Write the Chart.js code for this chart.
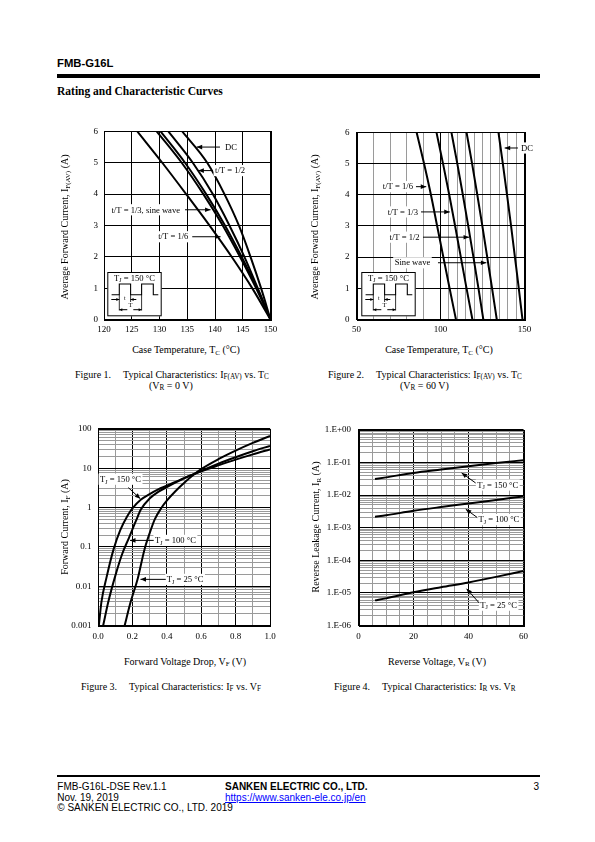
<!DOCTYPE html>
<html><head><meta charset="utf-8">
<script src="https://cdn.jsdelivr.net/npm/chart.js@4.4.0/dist/chart.umd.min.js"></script>
<style>
body{margin:0;width:595px;height:842px;position:relative;background:#fff;font-family:"Liberation Serif","Times New Roman",Times,serif;color:#000;overflow:hidden}
.abs{position:absolute;white-space:nowrap}
canvas{position:absolute}
.sans{font-family:"Liberation Sans",Arial,Helvetica,sans-serif}
.s{font-size:70%;position:relative;top:.25em}
.ax{font-size:10px;line-height:1;transform:translate(-50%,-50%)}
.ay{font-size:10px;line-height:1;transform:translate(-50%,-50%) rotate(-90deg)}
.cap{font-size:10px;line-height:11px}
.cap .s{top:.1em;font-size:72%}
</style></head>
<body>
<div class="abs sans" style="left:57px;top:58px;font-size:11.3px;line-height:1;font-weight:bold">FMB-G16L</div>
<div class="abs" style="left:57px;top:74px;width:483px;height:4px;background:#000"></div>
<div class="abs" style="left:57px;top:85.5px;font-size:11.5px;line-height:1;font-weight:bold">Rating and Characteristic Curves</div>

<canvas id="c1" width="236" height="220" style="left:54px;top:120px"></canvas>
<canvas id="c2" width="240" height="220" style="left:306px;top:120px"></canvas>
<canvas id="c3" width="240" height="228" style="left:48px;top:417px"></canvas>
<canvas id="c4" width="245" height="228" style="left:300px;top:417px"></canvas>

<div class="abs ax" style="left:186px;top:350px">Case Temperature, T<span class="s">C</span> (°C)</div>
<div class="abs ay" style="left:65px;top:227px">Average Forward Current, I<span class="s">F(AV)</span> (A)</div>
<div class="abs ax" style="left:439px;top:350px">Case Temperature, T<span class="s">C</span> (°C)</div>
<div class="abs ay" style="left:315px;top:227px">Average Forward Current, I<span class="s">F(AV)</span> (A)</div>
<div class="abs ax" style="left:185px;top:661.5px">Forward Voltage Drop, V<span class="s">F</span> (V)</div>
<div class="abs ay" style="left:65px;top:527px">Forward Current, I<span class="s">F</span> (A)</div>
<div class="abs ax" style="left:437px;top:661.5px">Reverse Voltage, V<span class="s">R</span> (V)</div>
<div class="abs ay" style="left:316px;top:527px">Reverse Leakage Current, I<span class="s">R</span> (A)</div>

<div class="abs cap" style="left:75px;top:369px">Figure 1.<span style="margin-left:12px">Typical Characteristics: I<span class="s">F(AV)</span> vs. T<span class="s">C</span></span></div>
<div class="abs cap" style="left:149px;top:380px">(V<span class="s">R</span> = 0 V)</div>
<div class="abs cap" style="left:328px;top:369px">Figure 2.<span style="margin-left:12px">Typical Characteristics: I<span class="s">F(AV)</span> vs. T<span class="s">C</span></span></div>
<div class="abs cap" style="left:400px;top:380px">(V<span class="s">R</span> = 60 V)</div>
<div class="abs cap" style="left:81px;top:681px">Figure 3.<span style="margin-left:12px">Typical Characteristics: I<span class="s">F</span> vs. V<span class="s">F</span></span></div>
<div class="abs cap" style="left:334px;top:681px">Figure 4.<span style="margin-left:12px">Typical Characteristics: I<span class="s">R</span> vs. V<span class="s">R</span></span></div>

<div class="abs" style="left:57px;top:775px;width:483px;height:1.5px;background:#000"></div>
<div class="abs sans" style="left:57.3px;top:782.3px;font-size:10px;line-height:10.5px">FMB-G16L-DSE Rev.1.1<br>Nov. 19, 2019<br>© SANKEN ELECTRIC CO., LTD. 2019</div>
<div class="abs sans" style="left:225px;top:782.3px;font-size:10px;line-height:10.5px"><b>SANKEN ELECTRIC CO., LTD.</b><br><span style="color:#00f;text-decoration:underline">https://www.sanken-ele.co.jp/en</span></div>
<div class="abs sans" style="right:56px;top:782.3px;font-size:10px;line-height:10.5px">3</div>

<script>
// ---------- Figure 1 data (IF(AV) vs Tc, VR = 0 V) ----------
const fig1Current = [6, 5, 4, 3, 2, 1, 0];
const fig1TcDC    = [134.1, 138.6, 141.7, 144.3, 146.4, 148.3, 150];
const fig1TcHalf  = [131.6, 136.0, 139.6, 142.6, 145.3, 147.7, 150];
const fig1TcSine  = [130.2, 134.6, 138.4, 141.8, 144.8, 147.6, 150];
const fig1TcThird = [129.5, 134.0, 137.9, 141.4, 144.5, 147.4, 150];
const fig1TcSixth = [126.0, 130.5, 134.8, 139.0, 143.0, 146.7, 150];
const fig1XTicks = [120, 125, 130, 135, 140, 145, 150];
const fig1YTicks = [0, 1, 2, 3, 4, 5, 6];

// ---------- Figure 2 data (IF(AV) vs Tc, VR = 60 V) ----------
const fig2Current = [6, 5, 4, 3, 2, 1, 0];
const fig2TcSixth = [85.8, 90.2, 94.3, 98.0, 101.7, 105.4, 109.2];
const fig2TcThird = [97.6, 101.5, 105.2, 108.7, 112.1, 115.5, 119.0];
const fig2TcHalf  = [106.5, 110.0, 113.3, 116.5, 119.6, 122.6, 125.5];
const fig2TcSine  = [115.5, 118.8, 121.9, 124.9, 127.8, 130.7, 133.5];
const fig2TcDC    = [134.5, 137.1, 139.6, 142.0, 144.3, 146.6, 148.8];
const fig2XTicks = [50, 60, 70, 80, 90, 100, 105, 110, 115, 120, 125, 130, 135, 140, 145, 150];
const fig2XLabels = [50, 100, 150];
const fig2YTicks = [0, 1, 2, 3, 4, 5, 6];

// ---------- Figure 3 data (IF vs VF) ----------
const fig3V25  = [0.155, 0.19, 0.23, 0.27, 0.30, 0.33, 0.37, 0.40, 0.45, 0.50, 0.55, 0.60, 0.70, 0.80, 0.90, 1.00];
const fig3I25  = [0.001, 0.004, 0.015, 0.085, 0.22, 0.5, 1.0, 1.5, 2.6, 4.2, 6.5, 9.5, 17, 28, 44, 66];
const fig3V100 = [0.03, 0.06, 0.10, 0.14, 0.18, 0.22, 0.25, 0.30, 0.35, 0.40, 0.50, 0.60, 0.70, 0.80, 0.90, 1.00];
const fig3I100 = [0.001, 0.004, 0.018, 0.065, 0.17, 0.45, 0.9, 1.7, 2.5, 3.3, 5.5, 8.5, 13, 19, 27, 37];
const fig3V150 = [0.005, 0.02, 0.05, 0.09, 0.13, 0.17, 0.20, 0.25, 0.30, 0.35, 0.40, 0.50, 0.60, 0.70, 0.80, 0.90, 1.00];
const fig3I150 = [0.001, 0.004, 0.017, 0.085, 0.27, 0.6, 0.95, 1.6, 2.2, 2.9, 3.6, 5.6, 8.3, 11.8, 16.5, 22.5, 30];
const fig3XTicks = [0, 0.1, 0.2, 0.3, 0.4, 0.5, 0.6, 0.7, 0.8, 0.9, 1.0];
const fig3XLabels = [0, 0.2, 0.4, 0.6, 0.8, 1.0];
const fig3YDecades = [0.001, 0.01, 0.1, 1, 10, 100];

// ---------- Figure 4 data (IR vs VR) ----------
const fig4V = [6, 10, 20, 30, 40, 50, 60];
const fig4I150 = [0.031, 0.035, 0.048, 0.061, 0.077, 0.096, 0.118];
const fig4I100 = [0.00215, 0.0024, 0.0033, 0.0043, 0.0055, 0.0071, 0.0091];
const fig4I25  = [5.9e-6, 6.8e-6, 1.05e-5, 1.5e-5, 2.1e-5, 3.1e-5, 4.7e-5];
const fig4XTicks = [0, 5, 10, 15, 20, 25, 30, 35, 40, 45, 50, 55, 60];
const fig4XLabels = [0, 20, 40, 60];
const fig4YDecades = [1e-6, 1e-5, 1e-4, 1e-3, 1e-2, 1e-1, 1];
const fig4YLabels = ["1.E-06", "1.E-05", "1.E-04", "1.E-03", "1.E-02", "1.E-01", "1.E+00"];

// ---------- helpers ----------
const SERIF = '"Liberation Serif","Times New Roman",Times,serif';
const GRAY = '#9a9a9a';
const has = (arr, v) => arr.some(a => Math.abs(a - v) < 1e-9);
const isDecade = v => Math.abs(Math.log10(v) - Math.round(Math.log10(v))) < 1e-9;
function logGrid(decades) {
  const out = [];
  for (let i = 0; i < decades.length - 1; i++)
    for (let k = 1; k <= 9; k++) out.push(Number((decades[i] * k).toPrecision(6)));
  out.push(decades[decades.length - 1]);
  return out;
}
const TJ = t => [{t: 'T'}, {t: 'J', sub: true}, {t: ' = ' + t + ' °C'}];

function drawRich(ctx, parts, x, y, size, align, bg) {
  let w = 0;
  const ws = parts.map(p => { ctx.font = (p.sub ? size * 0.7 : size) + 'px ' + SERIF; const m = ctx.measureText(p.t).width; w += m; return m; });
  const sx = align === 'right' ? x - w : align === 'center' ? x - w / 2 : x;
  if (bg) { ctx.fillStyle = '#fff'; ctx.fillRect(sx - 1.5, y - size * 0.65, w + 3, size * 1.3); }
  return () => {
    ctx.fillStyle = '#000'; ctx.textBaseline = 'alphabetic'; ctx.textAlign = 'left';
    let cx = sx;
    parts.forEach((p, i) => { ctx.font = (p.sub ? size * 0.7 : size) + 'px ' + SERIF; ctx.fillText(p.t, cx, y + size * 0.32 + (p.sub ? size * 0.18 : 0)); cx += ws[i]; });
  };
}
function arrow(ctx, x1, y1, x2, y2, head, hw) {
  head = head || 5.5; hw = hw || 2.3;
  ctx.strokeStyle = '#000'; ctx.fillStyle = '#000'; ctx.lineWidth = 1;
  ctx.beginPath(); ctx.moveTo(x1, y1); ctx.lineTo(x2, y2); ctx.stroke();
  const a = Math.atan2(y2 - y1, x2 - x1), c = Math.cos(a), s = Math.sin(a);
  ctx.beginPath(); ctx.moveTo(x2, y2);
  ctx.lineTo(x2 - head * c + hw * s, y2 - head * s - hw * c);
  ctx.lineTo(x2 - head * c - hw * s, y2 - head * s + hw * c);
  ctx.closePath(); ctx.fill();
}
function drawInset(ctx, area, dx) {
  const x0 = area.left + dx, y0 = area.bottom - 47.5, W = 54.4, H = 44.3;
  ctx.fillStyle = '#fff'; ctx.fillRect(x0, y0, W, H);
  ctx.strokeStyle = '#000'; ctx.lineWidth = 1; ctx.strokeRect(x0 + 0.5, y0 + 0.5, W - 1, H - 1);
  drawRich(ctx, TJ(150), x0 + W / 2, y0 + 6, 8.6, 'center', false)();
  const lo = y0 + 22.7, hi = y0 + 12;
  ctx.lineWidth = 1.1;
  ctx.beginPath();
  ctx.moveTo(x0 + 4.3, lo); ctx.lineTo(x0 + 12, lo); ctx.lineTo(x0 + 12, hi); ctx.lineTo(x0 + 23.3, hi);
  ctx.lineTo(x0 + 23.3, lo); ctx.lineTo(x0 + 34.3, lo); ctx.lineTo(x0 + 34.3, hi); ctx.lineTo(x0 + 46, hi);
  ctx.lineTo(x0 + 46, lo); ctx.lineTo(x0 + 51, lo);
  ctx.stroke();
  ctx.lineWidth = 0.8;
  ctx.beginPath();
  ctx.moveTo(x0 + 12, lo); ctx.lineTo(x0 + 12, y0 + 38.5);
  ctx.moveTo(x0 + 34.3, lo); ctx.lineTo(x0 + 34.3, y0 + 38.5);
  ctx.moveTo(x0 + 23.3, lo); ctx.lineTo(x0 + 23.3, y0 + 30);
  ctx.stroke();
  arrow(ctx, x0 + 4, y0 + 27.5, x0 + 12, y0 + 27.5, 3, 1.5);
  arrow(ctx, x0 + 29, y0 + 27.5, x0 + 23.3, y0 + 27.5, 3, 1.5);
  arrow(ctx, x0 + 20, y0 + 37.7, x0 + 12, y0 + 37.7, 3, 1.5);
  arrow(ctx, x0 + 26, y0 + 37.7, x0 + 34.3, y0 + 37.7, 3, 1.5);
  drawRich(ctx, [{t: 't'}], x0 + 17.6, y0 + 26.5, 6, 'center', false)();
  drawRich(ctx, [{t: 'T'}], x0 + 23.2, y0 + 33, 6.5, 'center', false)();
}

const framePlugin = {
  id: 'frame',
  beforeDatasetsDraw(chart) {
    const a = chart.chartArea, ctx = chart.ctx;
    ctx.save(); ctx.strokeStyle = '#000'; ctx.lineWidth = 1;
    ctx.strokeRect(Math.round(a.left) + 0.5, Math.round(a.top) + 0.5, Math.round(a.right) - Math.round(a.left), Math.round(a.bottom) - Math.round(a.top));
    ctx.restore();
  }
};
function annPlugin(anns, insetDx) {
  return {
    id: 'ann',
    afterDatasetsDraw(chart) {
      const ctx = chart.ctx, xs = chart.scales.x, ys = chart.scales.y;
      ctx.save();
      if (insetDx !== undefined) drawInset(ctx, chart.chartArea, insetDx);
      anns.forEach(a => {
        const txt = drawRich(ctx, a.parts, xs.getPixelForValue(a.x), ys.getPixelForValue(a.y), 8.6, a.align, true);
        if (a.arrow) arrow(ctx, xs.getPixelForValue(a.arrow[0]), ys.getPixelForValue(a.arrow[1]), xs.getPixelForValue(a.arrow[2]), ys.getPixelForValue(a.arrow[3]));
        txt();
      });
      ctx.restore();
    }
  };
}

function build(id, o) {
  const axis = (ax) => ({
    type: ax.type || 'linear', min: ax.min, max: ax.max,
    afterFit: s => { if (ax.w !== undefined) s.width = ax.w; if (ax.h !== undefined) s.height = ax.h; },
    afterBuildTicks: s => { s.ticks = ax.ticks.map(v => ({value: v})); },
    grid: {color: c => (c.tick ? ax.grid(c.tick.value) : '#000'), lineWidth: 1, drawTicks: false},
    border: {color: '#000', width: 1},
    ticks: {autoSkip: false, maxRotation: 0, minRotation: 0, padding: ax.pad, color: '#000', font: {family: SERIF, size: 9}, callback: v => ax.label(v)}
  });
  return new Chart(document.getElementById(id), {
    type: 'scatter',
    data: {datasets: o.series.map(s => ({
      data: s.x.map((x, i) => ({x: x, y: s.y[i]})),
      showLine: true, borderColor: '#000', borderWidth: 2, pointRadius: 0, fill: false,
      cubicInterpolationMode: 'monotone'
    }))},
    options: {
      responsive: false, animation: false, events: [],
      layout: {padding: o.padding},
      plugins: {legend: {display: false}, tooltip: {enabled: false}},
      scales: {x: axis(o.x), y: axis(o.y)}
    },
    plugins: [framePlugin, annPlugin(o.anns, o.insetDx)]
  });
}

// ---------- Figure 1 ----------
build('c1', {
  padding: {top: 10.5, right: 19.5, left: 0, bottom: 0},
  series: [
    {x: fig1TcDC, y: fig1Current}, {x: fig1TcHalf, y: fig1Current}, {x: fig1TcSine, y: fig1Current},
    {x: fig1TcThird, y: fig1Current}, {x: fig1TcSixth, y: fig1Current}
  ],
  x: {min: 120, max: 150, ticks: fig1XTicks, h: 20.5, pad: 5, grid: () => '#000', label: v => String(v)},
  y: {min: 0, max: 6, ticks: fig1YTicks, w: 50, pad: 6, grid: () => '#000', label: v => String(v)},
  insetDx: 3.3,
  anns: [
    {parts: [{t: 'DC'}], x: 141.8, y: 5.5, align: 'left', arrow: [140.9, 5.5, 136.7, 5.5]},
    {parts: [{t: 't/T = 1/2'}], x: 140.0, y: 4.75, align: 'left', arrow: [139.6, 4.75, 137.0, 4.75]},
    {parts: [{t: 't/T = 1/3, sine wave'}], x: 133.7, y: 3.5, align: 'right', arrow: [134.6, 3.5, 139.2, 3.5]},
    {parts: [{t: 't/T = 1/6'}], x: 135.2, y: 2.64, align: 'right', arrow: [135.9, 2.64, 141.0, 2.64]}
  ]
});

// ---------- Figure 2 ----------
build('c2', {
  padding: {top: 10.5, right: 21.5, left: 0, bottom: 0},
  series: [
    {x: fig2TcSixth, y: fig2Current}, {x: fig2TcThird, y: fig2Current}, {x: fig2TcHalf, y: fig2Current},
    {x: fig2TcSine, y: fig2Current}, {x: fig2TcDC, y: fig2Current}
  ],
  x: {min: 50, max: 150, ticks: fig2XTicks, h: 20.5, pad: 5, grid: v => (has(fig2XLabels, v) ? '#000' : GRAY), label: v => (has(fig2XLabels, v) ? String(v) : '')},
  y: {min: 0, max: 6, ticks: fig2YTicks, w: 50.5, pad: 7, grid: () => '#000', label: v => String(v)},
  insetDx: 4.8,
  anns: [
    {parts: [{t: 'DC'}], x: 147.9, y: 5.5, align: 'left', arrow: [146.1, 5.5, 138.2, 5.5]},
    {parts: [{t: 't/T = 1/6'}], x: 83.6, y: 4.26, align: 'right', arrow: [85.4, 4.26, 91.5, 4.26]},
    {parts: [{t: 't/T = 1/3'}], x: 86.6, y: 3.45, align: 'right', arrow: [88.4, 3.45, 105.5, 3.45]},
    {parts: [{t: 't/T = 1/2'}], x: 87.6, y: 2.64, align: 'right', arrow: [89.6, 2.64, 117.0, 2.64]},
    {parts: [{t: 'Sine wave'}], x: 93.9, y: 1.82, align: 'right', arrow: [98.5, 1.82, 127.3, 1.82]}
  ]
});

// ---------- Figure 3 ----------
build('c3', {
  padding: {top: 10.5, right: 18, left: 0, bottom: 0},
  series: [
    {x: fig3V25, y: fig3I25}, {x: fig3V100, y: fig3I100}, {x: fig3V150, y: fig3I150}
  ],
  x: {min: 0, max: 1.0, ticks: fig3XTicks, h: 19.5, pad: 5.5, grid: v => (has(fig3XLabels, v) ? '#000' : GRAY), label: v => (has(fig3XLabels, v) ? v.toFixed(1) : '')},
  y: {type: 'logarithmic', min: 0.001, max: 100, ticks: logGrid(fig3YDecades), w: 50, pad: 6.5, grid: v => (isDecade(v) ? '#000' : GRAY), label: v => (has(fig3YDecades, v) ? String(v) : '')},
  anns: [
    {parts: TJ(150), x: 0.012, y: 5.25, align: 'left', arrow: [0.176, 3.22, 0.246, 1.68]},
    {parts: TJ(100), x: 0.331, y: 0.146, align: 'left', arrow: [0.324, 0.146, 0.186, 0.146]},
    {parts: TJ(25), x: 0.40, y: 0.0149, align: 'left', arrow: [0.394, 0.0149, 0.247, 0.0149]}
  ]
});

// ---------- Figure 4 ----------
build('c4', {
  padding: {top: 10.5, right: 21.5, left: 0, bottom: 0},
  series: [
    {x: fig4V, y: fig4I150}, {x: fig4V, y: fig4I100}, {x: fig4V, y: fig4I25}
  ],
  x: {min: 0, max: 60, ticks: fig4XTicks, h: 19.5, pad: 5.5, grid: v => (has(fig4XLabels, v) ? '#000' : GRAY), label: v => (has(fig4XLabels, v) ? String(v) : '')},
  y: {type: 'logarithmic', min: 1e-6, max: 1, ticks: logGrid(fig4YDecades), w: 58.5, pad: 7.5, grid: v => (isDecade(v) ? '#000' : GRAY),
      label: v => { const i = fig4YDecades.findIndex(d => Math.abs(d - v) < d * 1e-6); return i >= 0 ? fig4YLabels[i] : ''; }},
  anns: [
    {parts: TJ(150), x: 43.2, y: 0.0204, align: 'left', arrow: [42.6, 0.0235, 37.5, 0.048]},
    {parts: TJ(100), x: 43.6, y: 0.00178, align: 'left', arrow: [43.2, 0.00205, 39.0, 0.0037]},
    {parts: TJ(25), x: 44.3, y: 4.2e-6, align: 'left', arrow: [43.9, 4.9e-6, 39.3, 1.34e-5]}
  ]
});
</script>
</body></html>
